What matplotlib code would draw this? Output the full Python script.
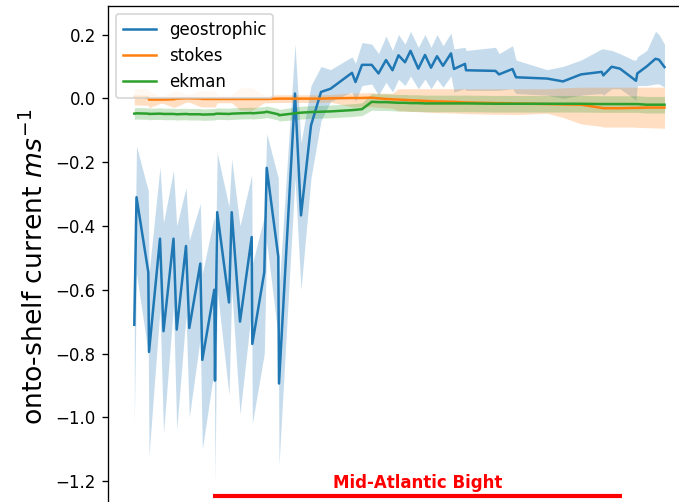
import matplotlib
matplotlib.use("Agg")
import matplotlib.pyplot as plt
import numpy as np

# along-shelf position (arbitrary units)
x = [26.8, 29.0, 40.8, 41.5, 52.5, 56.0, 66.0, 69.2, 78.5, 81.8,
     92.8, 94.8, 106.8, 107.5, 109.7, 121.5, 124.2, 132.5, 144.2, 144.8,
     156.8, 159.2, 170.8, 171.5, 187.5, 193.5, 203.5, 213.5, 223.0, 244.5,
     248.0, 254.5, 264.2, 271.0, 278.5, 285.0, 291.0, 297.5, 303.0, 310.8,
     317.5, 323.5, 329.5, 335.5, 343.5, 346.5, 357.5, 358.5, 388.0, 391.5,
     405.0, 408.5, 439.5, 455.5, 473.5, 494.2, 495.8, 504.2, 512.5, 526.0,
     528.5, 529.8, 539.2, 548.0, 551.5, 557.0]

geo = [-0.71, -0.31, -0.545, -0.795, -0.44, -0.73, -0.44, -0.725, -0.463, -0.72,
       -0.518, -0.82, -0.60, -0.885, -0.357, -0.64, -0.357, -0.70, -0.435, -0.77,
       -0.545, -0.218, -0.497, -0.894, 0.015, -0.367, -0.085, 0.02, 0.03, 0.08,
       0.051, 0.105, 0.105, 0.078, 0.12, 0.088, 0.135, 0.113, 0.149, 0.093,
       0.136, 0.096, 0.132, 0.102, 0.141, 0.092, 0.108, 0.088, 0.086, 0.075,
       0.092, 0.066, 0.062, 0.053, 0.075, 0.083, 0.072, 0.099, 0.093, 0.061,
       0.055, 0.078, 0.10, 0.124, 0.121, 0.098]
geo_lo = [-1.02, -0.55, -0.80, -1.12, -0.66, -1.05, -0.65, -1.04, -0.68, -1.0,
          -0.75, -1.10, -0.85, -1.2, -0.60, -0.93, -0.60, -0.99, -0.66, -1.02,
          -0.80, -0.45, -0.75, -1.15, -0.25, -0.60, -0.25, -0.07, -0.01, 0.02,
          -0.01, 0.04, 0.045, 0.01, 0.05, 0.02, 0.06, 0.04, 0.07, 0.03,
          0.06, 0.03, 0.06, 0.035, 0.07, 0.02, 0.03, 0.025, 0.025, 0.025,
          0.03, 0.015, 0.01, 0.0, 0.01, 0.015, 0.01, 0.03, 0.03, 0.0,
          -0.006, 0.04, 0.04, 0.045, 0.045, 0.035]
geo_hi = [-0.62, -0.15, -0.29, -0.55, -0.215, -0.39, -0.226, -0.40, -0.28, -0.445,
          -0.33, -0.55, -0.37, -0.60, -0.17, -0.34, -0.19, -0.40, -0.24, -0.52,
          -0.37, -0.11, -0.25, -0.60, 0.17, -0.14, 0.04, 0.10, 0.09, 0.13,
          0.11, 0.175, 0.17, 0.14, 0.195, 0.15, 0.20, 0.17, 0.21, 0.16,
          0.20, 0.16, 0.20, 0.165, 0.205, 0.155, 0.16, 0.15, 0.16, 0.14,
          0.165, 0.12, 0.09, 0.10, 0.12, 0.155, 0.155, 0.15, 0.14, 0.12,
          0.12, 0.13, 0.15, 0.21, 0.20, 0.17]

stokes = [0.005, 0.005, 0.004, -0.004, -0.004, -0.004, -0.003, -0.001, 0.0, 0.0,
          -0.001, -0.002, -0.002, -0.002, -0.002, -0.002, -0.002, -0.002, -0.002, -0.002,
          -0.002, -0.002, -0.001, -0.001, -0.001, -0.001, -0.001, -0.001, 0.0, 0.001,
          0.001, 0.001, 0.002, 0.0, -0.002, -0.003, -0.004, -0.005, -0.006, -0.007,
          -0.008, -0.009, -0.010, -0.010, -0.011, -0.011, -0.013, -0.013, -0.015, -0.015,
          -0.016, -0.016, -0.018, -0.019, -0.020, -0.030, -0.031, -0.031, -0.031, -0.030,
          -0.030, -0.030, -0.029, -0.029, -0.029, -0.029]
stokes_lo = [-0.021, -0.021, -0.022, -0.03, -0.016, -0.016, -0.028, -0.026, -0.012, -0.012,
             -0.026, -0.027, -0.027, -0.027, -0.014, -0.014, -0.014, -0.037, -0.037, -0.037,
             -0.014, -0.014, -0.013, -0.013, -0.013, -0.013, -0.013, -0.013, -0.012, -0.027,
             -0.027, -0.027, -0.026, -0.028, -0.030, -0.031, -0.039, -0.040, -0.041, -0.042,
             -0.043, -0.044, -0.045, -0.045, -0.046, -0.046, -0.048, -0.048, -0.050, -0.050,
             -0.051, -0.051, -0.047, -0.060, -0.080, -0.088, -0.090, -0.090, -0.090, -0.090,
             -0.091, -0.091, -0.092, -0.093, -0.093, -0.094]
stokes_hi = [0.031, 0.031, 0.030, 0.022, 0.008, 0.008, 0.022, 0.024, 0.012, 0.012,
             0.024, 0.023, 0.023, 0.023, 0.010, 0.010, 0.010, 0.033, 0.033, 0.033,
             0.010, 0.010, 0.011, 0.011, 0.011, 0.011, 0.011, 0.011, 0.012, 0.017,
             0.017, 0.017, 0.018, 0.016, 0.016, 0.016, 0.030, 0.030, 0.030, 0.030,
             0.030, 0.030, 0.030, 0.030, 0.030, 0.030, 0.030, 0.030, 0.030, 0.030,
             0.030, 0.030, 0.030, 0.033, 0.035, 0.035, 0.035, 0.035, 0.035, 0.035,
             0.035, 0.035, 0.035, 0.035, 0.035, 0.035]

ekman = [-0.048, -0.047, -0.048, -0.049, -0.048, -0.049, -0.049, -0.050, -0.049, -0.050,
         -0.050, -0.051, -0.050, -0.049, -0.048, -0.049, -0.048, -0.047, -0.046, -0.047,
         -0.044, -0.042, -0.050, -0.053, -0.047, -0.045, -0.043, -0.042, -0.041, -0.037,
         -0.036, -0.034, -0.011, -0.012, -0.012, -0.013, -0.014, -0.014, -0.015, -0.015,
         -0.016, -0.016, -0.016, -0.016, -0.016, -0.016, -0.016, -0.016, -0.017, -0.017,
         -0.017, -0.017, -0.017, -0.017, -0.017, -0.018, -0.018, -0.018, -0.018, -0.018,
         -0.018, -0.018, -0.020, -0.020, -0.020, -0.020]
ekman_err = [0.018] * 24 + [0.02] * 8 + [0.026] * 34

region_label = "Mid-Atlantic Bight"
region_x = [105.5, 514.5]
region_y = -1.248

blue, orange, green = "#1f77b4", "#ff7f0e", "#2ca02c"

fig = plt.figure(figsize=(679 / 120, 502 / 120), dpi=120)
ax = fig.add_axes([107.5 / 679, -0.05368, 612.5 / 679, 1.04272])

xa = np.array(x)
ax.plot(xa, geo, color=blue, lw=1.5, label="geostrophic")
ax.fill_between(xa, geo_lo, geo_hi, color=blue, alpha=0.25, lw=0)
ax.plot(xa, stokes, color=orange, lw=1.5, label="stokes")
ax.fill_between(xa, stokes_lo, stokes_hi, color=orange, alpha=0.25, lw=0)
ek = np.array(ekman)
ee = np.array(ekman_err)
ax.plot(xa, ek, color=green, lw=1.5, label="ekman")
ax.fill_between(xa, ek - ee, ek + ee, color=green, alpha=0.25, lw=0)

ax.plot(region_x, [region_y, region_y], color="red", lw=2.5, solid_capstyle="butt")
ax.text(np.mean(region_x), -1.206, region_label, color="red", fontweight="bold",
        fontsize=10, ha="center", va="center")

ax.set_xlim(0, 612.5)
ax.set_ylim(-1.35, 0.291)
ax.set_xticks([])
ax.set_yticks([-1.2, -1.0, -0.8, -0.6, -0.4, -0.2, 0.0, 0.2])
ax.set_ylabel("onto-shelf current $ms^{-1}$", fontsize=16)
ax.legend(loc="upper left", fontsize=10)

fig.savefig("out.png", dpi=120)
